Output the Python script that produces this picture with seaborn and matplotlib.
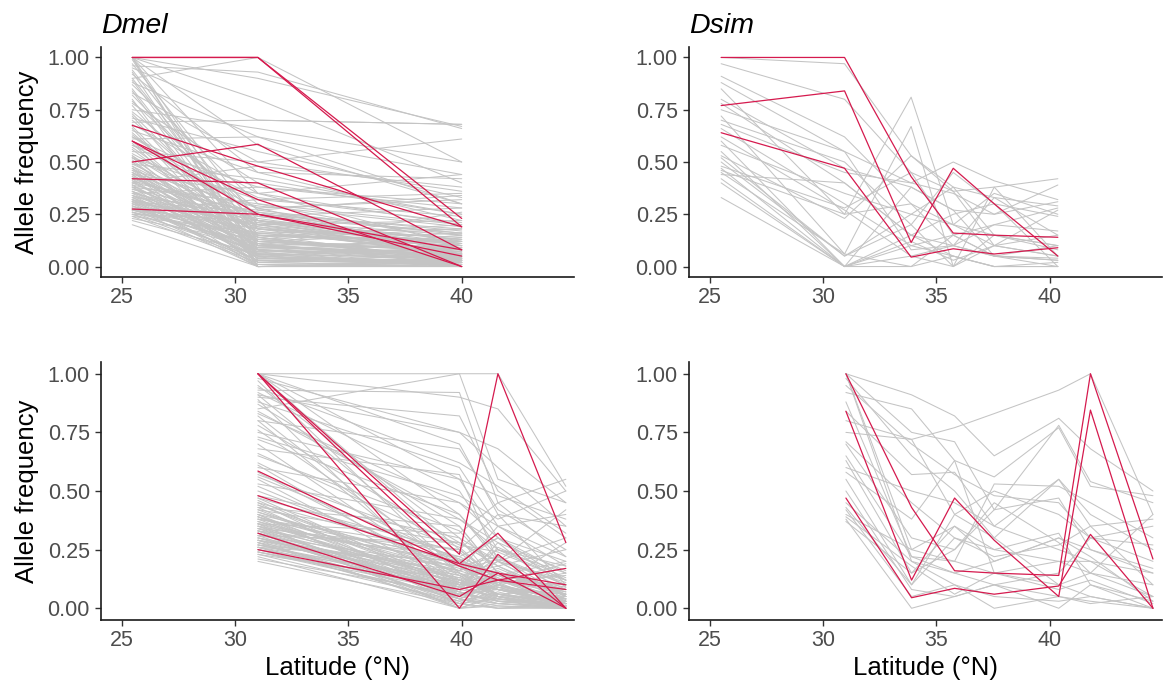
import pandas as pd
import matplotlib
matplotlib.use("Agg")
import matplotlib.pyplot as plt
import seaborn as sns

# latitudes of the sampled populations in each panel
dmel_top_lat = [25.45, 31.0, 40.0]
dmel_bot_lat = [31.0, 39.9, 41.6, 44.6]
dsim_top_lat = [25.49, 30.94, 33.88, 35.74, 37.55, 40.36]
dsim_bot_lat = [31.0, 33.9, 35.8, 37.55, 40.4, 41.8, 44.56]

# allele frequencies, one tuple per SNP (grey = background, red = highlighted)
dmel_top_grey = [
    (1.00, 0.00, 0.02), (1.00, 0.12, 0.05), (1.00, 0.35, 0.10), (1.00, 0.58, 0.30),
    (1.00, 0.90, 0.67), (1.00, 0.80, 0.40), (0.97, 0.22, 0.08), (0.95, 0.70, 0.68),
    (0.93, 0.05, 0.00), (0.92, 0.45, 0.22), (0.90, 0.15, 0.03), (0.88, 0.62, 0.44),
    (0.87, 0.30, 0.12), (0.85, 0.08, 0.02), (0.83, 0.50, 0.36), (0.82, 0.20, 0.06),
    (0.80, 0.00, 0.00), (0.78, 0.40, 0.25), (0.77, 0.10, 0.04), (0.75, 0.66, 0.50),
    (0.74, 0.27, 0.15), (0.72, 0.05, 0.01), (0.71, 0.55, 0.33), (0.70, 0.18, 0.09),
    (0.69, 0.70, 0.68), (0.68, 0.35, 0.20), (0.66, 0.02, 0.00), (0.65, 0.45, 0.42),
    (0.64, 0.12, 0.07), (0.62, 0.25, 0.18), (0.61, 0.62, 0.30), (0.60, 0.08, 0.03),
    (0.58, 0.38, 0.28), (0.57, 0.15, 0.12), (0.55, 0.50, 0.61), (0.54, 0.22, 0.10),
    (0.53, 0.04, 0.02), (0.52, 0.32, 0.35), (0.50, 0.10, 0.06), (0.49, 0.42, 0.25),
    (0.48, 0.18, 0.14), (0.47, 0.00, 0.01), (0.46, 0.28, 0.32), (0.45, 0.06, 0.04),
    (0.45, 0.20, 0.22), (0.44, 0.35, 0.44), (0.43, 0.12, 0.08), (0.42, 0.02, 0.03),
    (0.41, 0.25, 0.16), (0.40, 0.15, 0.10), (0.40, 0.48, 0.38), (0.39, 0.08, 0.05),
    (0.38, 0.30, 0.20), (0.38, 0.00, 0.00), (0.37, 0.18, 0.12), (0.36, 0.10, 0.26),
    (0.36, 0.04, 0.02), (0.35, 0.22, 0.15), (0.35, 0.38, 0.30), (0.34, 0.13, 0.07),
    (0.33, 0.06, 0.04), (0.33, 0.27, 0.34), (0.32, 0.01, 0.00), (0.32, 0.16, 0.18),
    (0.31, 0.09, 0.06), (0.31, 0.20, 0.11), (0.30, 0.03, 0.01), (0.30, 0.24, 0.28),
    (0.29, 0.12, 0.09), (0.29, 0.07, 0.15), (0.28, 0.18, 0.05), (0.28, 0.00, 0.03),
    (0.27, 0.10, 0.12), (0.27, 0.32, 0.24), (0.26, 0.05, 0.02), (0.26, 0.14, 0.20),
    (0.25, 0.08, 0.04), (0.25, 0.22, 0.13), (0.24, 0.02, 0.06), (0.23, 0.11, 0.08),
    (0.22, 0.06, 0.01), (0.20, 0.00, 0.02), (0.42, 0.22, 0.04), (0.58, 0.28, 0.06),
    (0.47, 0.14, 0.03), (0.39, 0.26, 0.08), (0.52, 0.09, 0.10), (0.63, 0.19, 0.05),
    (0.34, 0.04, 0.14), (0.44, 0.07, 0.00), (0.96, 0.93, 0.66), (0.90, 1.00, 0.50),
    (0.43, 0.17, 0.06), (0.41, 0.05, 0.09), (0.37, 0.23, 0.10), (0.36, 0.14, 0.03),
    (0.34, 0.19, 0.11), (0.33, 0.11, 0.02), (0.32, 0.07, 0.08), (0.31, 0.26, 0.17),
    (0.30, 0.13, 0.04), (0.29, 0.03, 0.05), (0.28, 0.09, 0.07), (0.27, 0.21, 0.09),
    (0.26, 0.11, 0.01), (0.25, 0.03, 0.03), (0.24, 0.16, 0.10), (0.46, 0.10, 0.05),
    (0.49, 0.21, 0.13), (0.51, 0.05, 0.00), (0.53, 0.16, 0.08), (0.56, 0.11, 0.02),
    (0.59, 0.02, 0.04), (0.62, 0.33, 0.21), (0.67, 0.08, 0.06), (0.73, 0.14, 0.02),
    (0.79, 0.24, 0.11), (0.84, 0.03, 0.01), (0.89, 0.10, 0.03), (0.94, 0.18, 0.12),
    (0.99, 0.06, 0.00), (0.38, 0.12, 0.16), (0.40, 0.29, 0.19), (0.44, 0.01, 0.02),
    (0.48, 0.06, 0.09), (0.35, 0.08, 0.00), (0.32, 0.20, 0.07), (0.39, 0.04, 0.03),
    (0.27, 0.15, 0.13), (0.45, 0.13, 0.18), (0.52, 0.24, 0.16), (0.31, 0.00, 0.01),
]
dmel_top_red = [
    (1.00, 1.00, 0.23), (1.00, 1.00, 0.19), (0.50, 0.585, 0.08), (0.675, 0.48, 0.19),
    (0.42, 0.40, 0.00), (0.60, 0.32, 0.00), (0.275, 0.25, 0.08), (0.60, 0.25, 0.05),
]

dmel_bot_grey = [
    (1.00, 1.00, 0.55, 0.45), (1.00, 0.90, 0.85, 0.50), (1.00, 0.70, 0.40, 0.10),
    (1.00, 0.55, 0.30, 0.20), (1.00, 0.40, 0.20, 0.05), (1.00, 0.25, 0.12, 0.02),
    (0.98, 0.75, 0.60, 0.35), (0.95, 0.30, 0.10, 0.00), (0.93, 0.92, 0.45, 0.55),
    (0.92, 0.50, 0.25, 0.15), (0.91, 0.20, 0.05, 0.01), (0.90, 0.82, 0.50, 0.30),
    (0.88, 0.60, 0.35, 0.40), (0.87, 0.35, 0.15, 0.08), (0.85, 1.00, 1.00, 0.52),
    (0.83, 0.45, 0.30, 0.12), (0.82, 0.15, 0.08, 0.02), (0.80, 0.68, 0.42, 0.25),
    (0.78, 0.28, 0.18, 0.04), (0.75, 0.55, 0.48, 0.38), (0.72, 0.40, 0.22, 0.10),
    (0.70, 0.12, 0.05, 0.00), (0.68, 0.57, 0.20, 0.30), (0.65, 0.33, 0.15, 0.06),
    (0.62, 0.20, 0.10, 0.03), (0.60, 0.45, 0.35, 0.22), (0.57, 0.26, 0.12, 0.07),
    (0.55, 0.10, 0.28, 0.05), (0.53, 0.38, 0.25, 0.18), (0.50, 0.18, 0.08, 0.01),
    (0.48, 0.30, 0.20, 0.12), (0.46, 0.08, 0.05, 0.00), (0.45, 0.22, 0.30, 0.15),
    (0.44, 0.15, 0.10, 0.04), (0.43, 0.05, 0.12, 0.02), (0.42, 0.28, 0.18, 0.25),
    (0.41, 0.12, 0.06, 0.01), (0.40, 0.20, 0.15, 0.08), (0.40, 0.02, 0.00, 0.00),
    (0.39, 0.10, 0.20, 0.05), (0.38, 0.25, 0.12, 0.10), (0.38, 0.06, 0.03, 0.02),
    (0.37, 0.16, 0.25, 0.12), (0.36, 0.00, 0.05, 0.00), (0.36, 0.12, 0.08, 0.03),
    (0.35, 0.20, 0.10, 0.15), (0.35, 0.04, 0.02, 0.01), (0.34, 0.14, 0.18, 0.06),
    (0.33, 0.08, 0.12, 0.04), (0.33, 0.22, 0.14, 0.20), (0.32, 0.02, 0.04, 0.00),
    (0.32, 0.11, 0.06, 0.02), (0.31, 0.18, 0.22, 0.08), (0.30, 0.06, 0.10, 0.03),
    (0.30, 0.15, 0.05, 0.01), (0.29, 0.00, 0.02, 0.00), (0.29, 0.09, 0.15, 0.07),
    (0.28, 0.13, 0.08, 0.05), (0.28, 0.04, 0.00, 0.02), (0.27, 0.10, 0.12, 0.10),
    (0.27, 0.18, 0.05, 0.00), (0.26, 0.07, 0.03, 0.01), (0.26, 0.02, 0.10, 0.04),
    (0.25, 0.12, 0.08, 0.06), (0.24, 0.05, 0.02, 0.00), (0.24, 0.09, 0.14, 0.02),
    (0.23, 0.03, 0.06, 0.03), (0.22, 0.00, 0.01, 0.00), (0.21, 0.06, 0.04, 0.02),
    (0.20, 0.02, 0.00, 0.01), (0.39, 0.16, 0.35, 0.18), (0.47, 0.24, 0.10, 0.28),
    (0.58, 0.14, 0.06, 0.02), (0.34, 0.25, 0.40, 0.35), (0.43, 0.35, 0.15, 0.08),
    (0.31, 0.28, 0.20, 0.42), (0.80, 0.10, 0.22, 0.05), (0.89, 0.05, 0.15, 0.00),
    (0.94, 0.62, 0.52, 0.32), (0.73, 0.48, 0.38, 0.50),
    (0.42, 0.10, 0.08, 0.03), (0.41, 0.17, 0.12, 0.06), (0.39, 0.04, 0.10, 0.01),
    (0.37, 0.09, 0.05, 0.04), (0.36, 0.19, 0.14, 0.09), (0.35, 0.11, 0.03, 0.00),
    (0.34, 0.06, 0.08, 0.02), (0.33, 0.13, 0.20, 0.11), (0.32, 0.07, 0.02, 0.05),
    (0.31, 0.03, 0.07, 0.00), (0.30, 0.10, 0.16, 0.03), (0.29, 0.14, 0.04, 0.01),
    (0.28, 0.01, 0.09, 0.06), (0.27, 0.08, 0.13, 0.02), (0.26, 0.12, 0.06, 0.08),
    (0.25, 0.04, 0.11, 0.00), (0.24, 0.07, 0.03, 0.04), (0.23, 0.10, 0.09, 0.01),
    (0.38, 0.21, 0.11, 0.14), (0.44, 0.12, 0.17, 0.05), (0.47, 0.09, 0.04, 0.02),
    (0.52, 0.16, 0.21, 0.10), (0.56, 0.21, 0.13, 0.03), (0.61, 0.11, 0.08, 0.01),
    (0.66, 0.27, 0.24, 0.12), (0.76, 0.18, 0.09, 0.02), (0.84, 0.38, 0.28, 0.16),
    (0.91, 0.75, 0.68, 0.45), (0.97, 0.15, 0.06, 0.00), (0.36, 0.32, 0.45, 0.22),
    (0.40, 0.07, 0.26, 0.13), (0.45, 0.04, 0.01, 0.00), (0.29, 0.16, 0.11, 0.19),
    (0.33, 0.00, 0.06, 0.03), (0.26, 0.20, 0.30, 0.09),
]
dmel_bot_red = [
    (1.00, 0.23, 1.00, 0.28), (1.00, 0.19, 0.15, 0.00), (1.00, 0.00, 0.23, 0.00),
    (0.585, 0.18, 0.12, 0.17), (0.48, 0.19, 0.32, 0.00), (0.32, 0.05, 0.15, 0.10),
    (0.25, 0.08, 0.12, 0.08),
]

dsim_top_grey = [
    (1.00, 0.97, 0.53, 0.38, 0.33, 0.29), (0.97, 0.80, 0.45, 0.36, 0.38, 0.42),
    (0.91, 0.62, 0.30, 0.10, 0.05, 0.03), (0.88, 0.55, 0.40, 0.50, 0.41, 0.32),
    (0.85, 0.25, 0.81, 0.20, 0.10, 0.05), (0.80, 0.47, 0.38, 0.27, 0.25, 0.39),
    (0.78, 0.40, 0.15, 0.05, 0.00, 0.00), (0.72, 0.06, 0.67, 0.00, 0.15, 0.10),
    (0.70, 0.50, 0.20, 0.45, 0.30, 0.24), (0.66, 0.30, 0.10, 0.15, 0.20, 0.17),
    (0.62, 0.27, 0.05, 0.10, 0.33, 0.15), (0.55, 0.00, 0.38, 0.27, 0.05, 0.00),
    (0.53, 0.23, 0.53, 0.36, 0.10, 0.27), (0.50, 0.05, 0.20, 0.00, 0.38, 0.05),
    (0.47, 0.00, 0.10, 0.05, 0.00, 0.00), (0.46, 0.25, 0.30, 0.20, 0.15, 0.10),
    (0.45, 0.06, 0.00, 0.15, 0.05, 0.03), (0.44, 0.40, 0.15, 0.10, 0.20, 0.28),
    (0.42, 0.00, 0.05, 0.00, 0.10, 0.15), (0.33, 0.00, 0.00, 0.05, 0.00, 0.02),
    (0.68, 0.45, 0.40, 0.35, 0.25, 0.31), (0.58, 0.35, 0.25, 0.38, 0.15, 0.08),
    (0.75, 0.55, 0.08, 0.10, 0.05, 0.04), (0.60, 0.00, 0.12, 0.03, 0.10, 0.05),
    (0.52, 0.05, 0.25, 0.20, 0.35, 0.25), (0.48, 0.28, 0.45, 0.15, 0.05, 0.10),
    (0.40, 0.00, 0.15, 0.25, 0.30, 0.00),
]
dsim_top_red = [
    (1.00, 1.00, 0.43, 0.16, 0.15, 0.14),
    (0.77, 0.84, 0.115, 0.47, 0.30, 0.05),
    (0.64, 0.47, 0.045, 0.085, 0.06, 0.09),
]

dsim_bot_grey = [
    (1.00, 0.91, 0.82, 0.65, 0.81, 0.68, 0.50), (1.00, 0.75, 0.71, 0.42, 0.78, 0.54, 0.45),
    (1.00, 0.25, 0.35, 0.20, 0.30, 0.25, 0.15), (1.00, 0.20, 0.10, 0.05, 0.03, 0.05, 0.00),
    (0.98, 0.65, 0.50, 0.30, 0.55, 0.35, 0.38), (0.92, 0.85, 0.63, 0.56, 0.77, 0.52, 0.48),
    (0.84, 0.57, 0.58, 0.35, 0.25, 0.20, 0.05), (0.80, 0.72, 0.77, 0.83, 0.93, 1.00, 0.40),
    (0.75, 0.72, 0.40, 0.50, 0.40, 0.30, 0.27), (0.71, 0.45, 0.30, 0.25, 0.32, 0.10, 0.03),
    (0.65, 0.22, 0.20, 0.53, 0.52, 0.45, 0.30), (0.63, 0.15, 0.25, 0.42, 0.47, 0.25, 0.17),
    (0.58, 0.38, 0.63, 0.15, 0.20, 0.15, 0.10), (0.55, 0.10, 0.40, 0.30, 0.10, 0.05, 0.00),
    (0.50, 0.08, 0.05, 0.10, 0.15, 0.30, 0.20), (0.45, 0.20, 0.15, 0.20, 0.30, 0.22, 0.03),
    (0.42, 0.05, 0.10, 0.00, 0.05, 0.03, 0.00), (0.40, 0.25, 0.20, 0.15, 0.10, 0.15, 0.05),
    (0.38, 0.00, 0.05, 0.10, 0.00, 0.10, 0.00), (0.37, 0.15, 0.35, 0.25, 0.20, 0.20, 0.15),
    (0.60, 0.50, 0.45, 0.35, 0.55, 0.40, 0.25), (0.88, 0.22, 0.15, 0.10, 0.05, 0.02, 0.05),
    (0.95, 0.70, 0.57, 0.48, 0.45, 0.30, 0.35), (0.70, 0.30, 0.25, 0.45, 0.28, 0.15, 0.40),
    (0.43, 0.10, 0.30, 0.22, 0.27, 0.35, 0.10), (0.39, 0.18, 0.06, 0.15, 0.08, 0.12, 0.02),
]
dsim_bot_red = [
    (1.00, 0.43, 0.16, 0.15, 0.14, 1.00, 0.21),
    (0.84, 0.12, 0.47, 0.29, 0.05, 0.845, 0.00),
    (0.47, 0.045, 0.085, 0.06, 0.095, 0.315, 0.00),
]

GREY = "#C4C4C4"
RED = "#D51A4E"
TICK_COLOR = "#4D4D4D"

sns.set_style("ticks")
plt.rcParams["font.family"] = ["Liberation Sans", "DejaVu Sans"]
plt.rcParams["text.color"] = "black"
plt.rcParams["axes.labelcolor"] = "black"


def to_long(lats, rows):
    """
    Turn a list of SNP tuples into a long table for seaborn.
    """
    records = []
    for i, row in enumerate(rows):
        for lat, freq in zip(lats, row):
            records.append({"snp": i, "lat": lat, "freq": freq})
    return pd.DataFrame(records)


def draw_panel(ax, lats, grey_rows, red_rows, title=None, ylabel=False, xlabel=False):
    grey_df = to_long(lats, grey_rows)
    red_df = to_long(lats, red_rows)

    sns.lineplot(data=grey_df, x="lat", y="freq", units="snp", estimator=None,
                 color=GREY, linewidth=0.75, ax=ax, legend=False)
    sns.lineplot(data=red_df, x="lat", y="freq", units="snp", estimator=None,
                 color=RED, linewidth=0.9, ax=ax, legend=False)

    ax.set_xlim(24.07, 44.96)
    ax.set_ylim(-0.05, 1.05)
    ax.set_xticks([25, 30, 35, 40])
    ax.set_yticks([0, 0.25, 0.5, 0.75, 1.0])
    ax.set_yticklabels(["0.00", "0.25", "0.50", "0.75", "1.00"])

    sns.despine(ax=ax)
    for side in ["left", "bottom"]:
        ax.spines[side].set_linewidth(1.2)
        ax.spines[side].set_color("#1A1A1A")
    ax.tick_params(axis="both", length=4.5, width=1.0, color="#333333",
                   labelcolor=TICK_COLOR, labelsize=15.5)
    ax.tick_params(axis="x", pad=2.5)
    ax.tick_params(axis="y", pad=3.5)

    ax.set_xlabel("Latitude (°N)" if xlabel else "", fontsize=18.5, labelpad=4,
                  color="black")
    ax.set_ylabel("Allele frequency" if ylabel else "", fontsize=18.5, labelpad=6,
                  color="black")
    if title:
        ax.set_title(title, loc="left", fontsize=20.5, fontstyle="italic", pad=10,
                     color="black")


def main():
    fig = plt.figure(figsize=(11.68, 6.92), dpi=100)

    w = 473 / 1168
    ax_tl = fig.add_axes([101 / 1168, (692 - 277) / 692, w, 230 / 692])
    ax_tr = fig.add_axes([689 / 1168, (692 - 277) / 692, w, 230 / 692])
    ax_bl = fig.add_axes([101 / 1168, (692 - 620) / 692, w, 258 / 692])
    ax_br = fig.add_axes([689 / 1168, (692 - 620) / 692, w, 258 / 692])

    draw_panel(ax_tl, dmel_top_lat, dmel_top_grey, dmel_top_red, title="Dmel", ylabel=True)
    draw_panel(ax_tr, dsim_top_lat, dsim_top_grey, dsim_top_red, title="Dsim")
    draw_panel(ax_bl, dmel_bot_lat, dmel_bot_grey, dmel_bot_red, ylabel=True, xlabel=True)
    draw_panel(ax_br, dsim_bot_lat, dsim_bot_grey, dsim_bot_red, xlabel=True)

    fig.savefig("out.png", dpi=100)
    plt.close(fig)


if __name__ == "__main__":
    main()
